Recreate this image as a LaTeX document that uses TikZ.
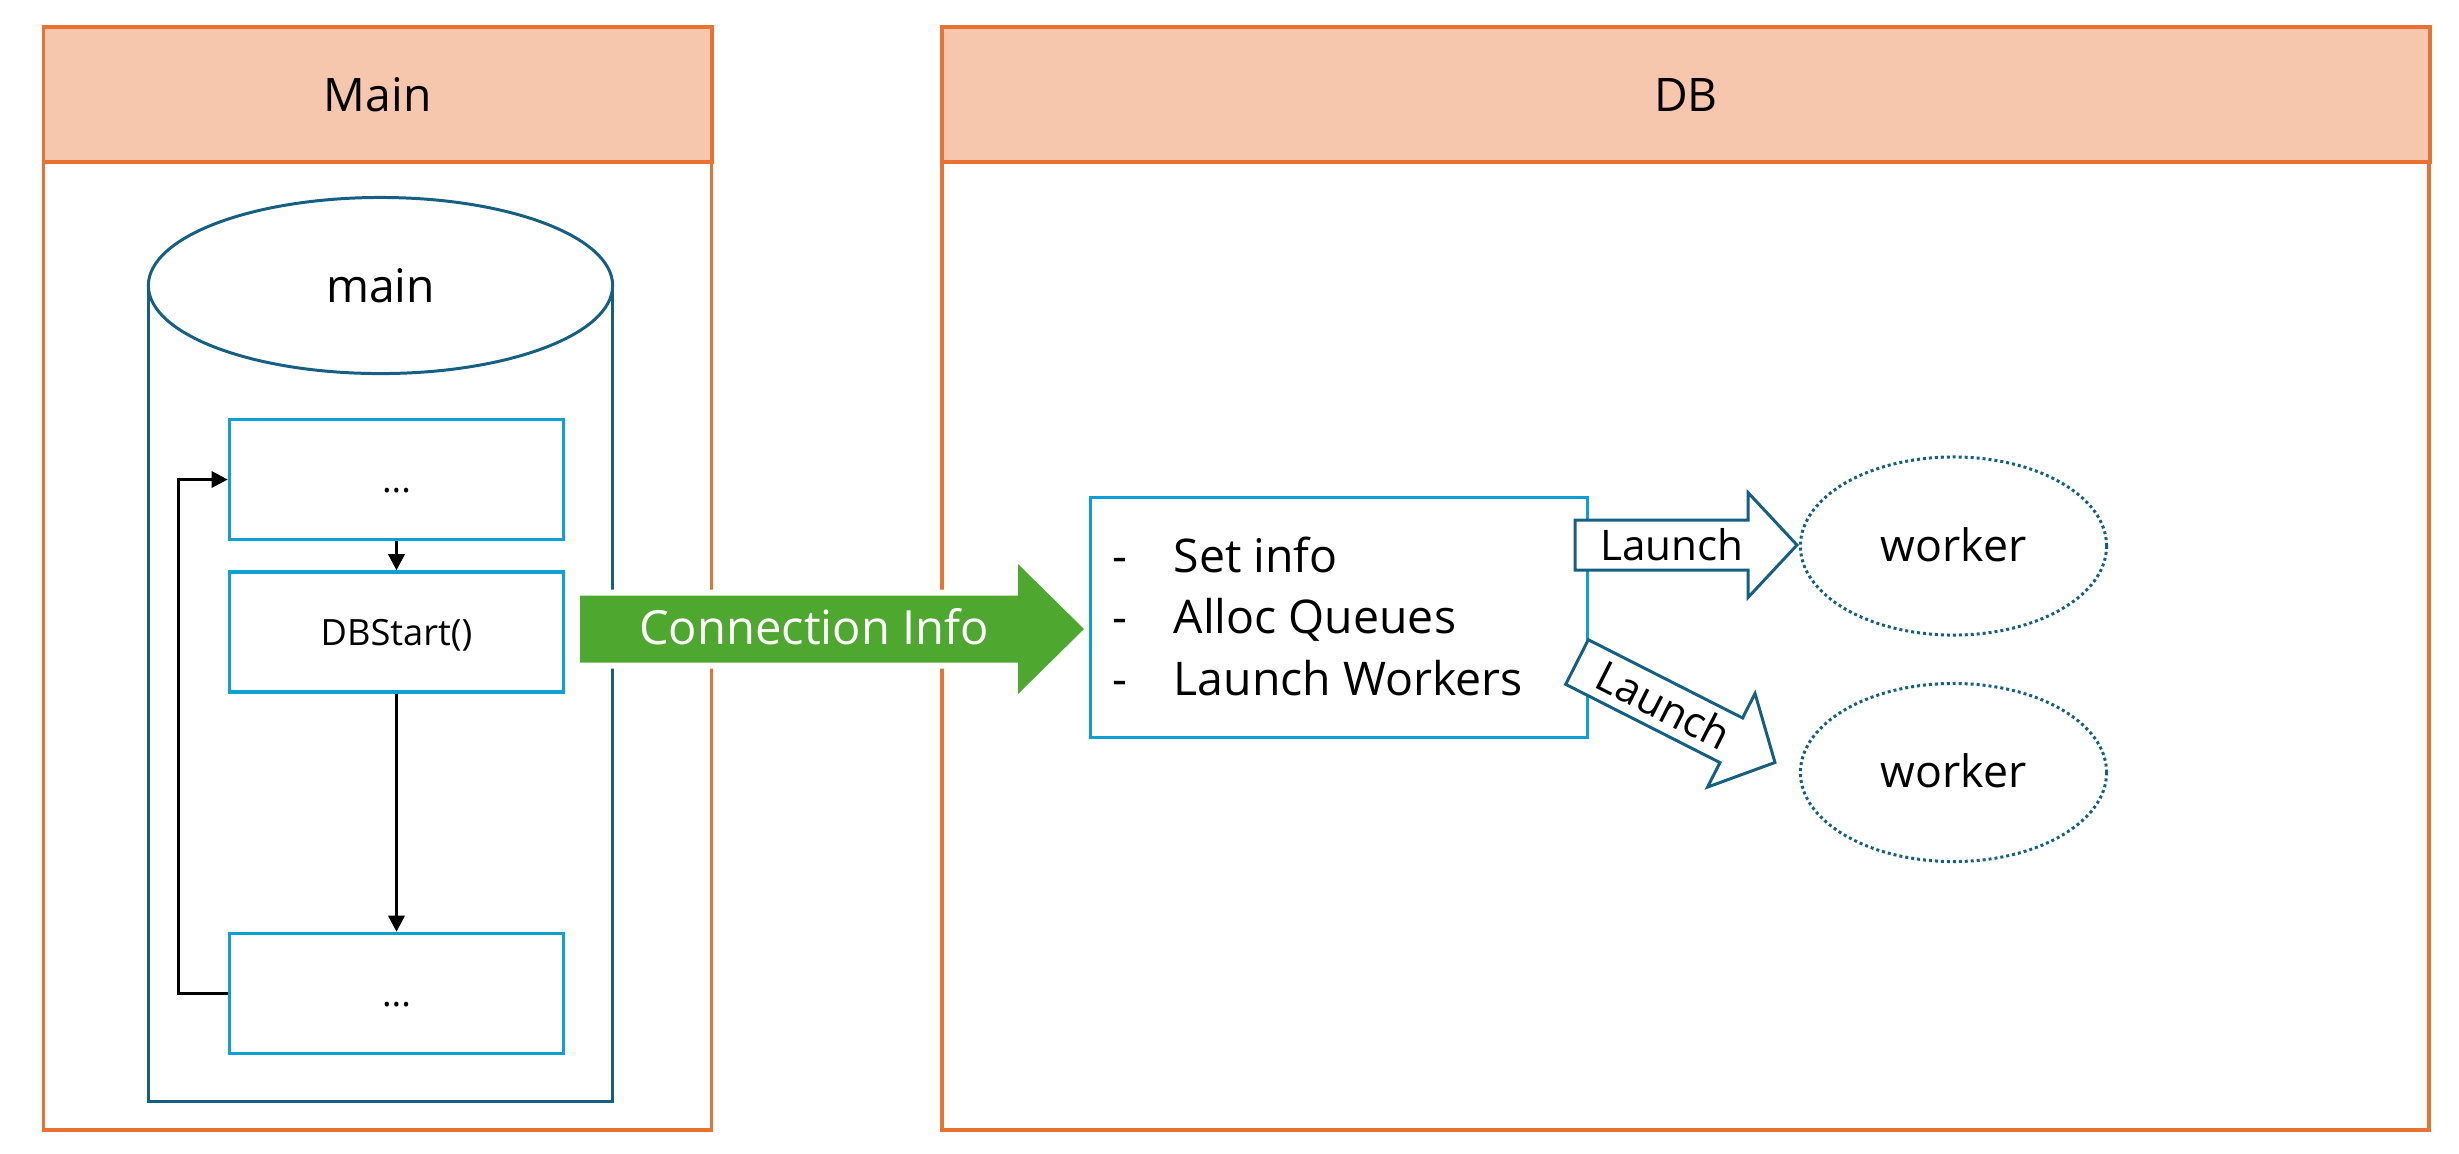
\documentclass[tikz,border=0pt]{standalone}
\usepackage{fontspec}
\setmainfont{Open Sans}
\usepackage{tikz}
\usetikzlibrary{arrows.meta,calc,shapes.geometric}

\definecolor{laneorange}{HTML}{E97132}
\definecolor{lanehead}{HTML}{F6C6AD}
\definecolor{darkblue}{HTML}{156082}
\definecolor{lightblue}{HTML}{0F9ED5}
\definecolor{flowgreen}{HTML}{4EA72E}

\begin{document}
\begin{tikzpicture}[x=0.01cm, y=-0.01cm, >={Triangle[length=4.6pt, width=4.6pt]},
  lane/.style={draw=laneorange, line width=0.95pt, outer sep=0pt},
  lanetitle/.style={lane, fill=lanehead, anchor=north west, minimum height=1.35cm,
    text height=0.4cm, text depth=0.07cm, font=\fontsize{13.15}{16}\selectfont},
  stepbox/.style={draw=lightblue, line width=0.95pt, minimum width=3.34cm, minimum height=1.2cm,
    text height=0.3cm, text depth=0.04cm, font=\fontsize{10.3}{12}\selectfont},
  flow/.style={->, line width=0.85pt},
  launch/.style={draw=darkblue, fill=white, line width=0.85pt},
  worker/.style={ellipse, draw=darkblue, line width=0.85pt, dash pattern=on 0.85pt off 0.85pt,
    minimum width=3.06cm, minimum height=1.78cm, text height=0.38cm, text depth=0.08cm,
    font=\fontsize{12.7}{15}\selectfont},
  infotext/.style={anchor=base west, inner sep=0pt, font=\fontsize{13.2}{16}\selectfont}]
  \useasboundingbox (0,0) rectangle (2459,1153);

  % swimlanes
  \node[lanetitle, minimum width=6.68cm] (mainhead) at (43.5,27) {Main};
  \draw[lane] (mainhead.south west) rectangle (711.5,1130);
  \node[lanetitle, minimum width=14.87cm] (dbhead) at (942,27) {DB};
  \draw[lane] (dbhead.south west) rectangle (2429,1130);

  % main cylinder
  \node[ellipse, draw=darkblue, line width=0.85pt, outer sep=0pt, minimum width=4.64cm,
    minimum height=1.76cm, text height=0.4cm, text depth=0.07cm,
    font=\fontsize{13.15}{16}\selectfont] (maincyl) at (380.5,285.5) {main};
  \draw[darkblue, line width=0.85pt] (maincyl.west) -- ++(0,815.5) -| (maincyl.east);

  % loop inside main
  \node[stepbox] (top) at (396.5,479.5) {...};
  \node[stepbox] (start) at (396.5,632) {DBStart()};
  \node[stepbox] (rest) at (396.5,993.5) {...};
  \draw[flow] (top) -- (start);
  \draw[flow] (start) -- (rest);
  \draw[flow] (rest.west) -- ++(-49,0) |- (top.west);

  % connection info
  \fill[flowgreen, preaction={draw=white, line width=3.4pt}]
    (580,595.5) -- (1018,595.5) -- (1018,564) -- (1084,629) -- (1018,694)
    -- (1018,662.5) -- (580,662.5) -- cycle;
  \node[white, anchor=base, inner sep=0pt, font=\fontsize{13.4}{16}\selectfont] (conn) at (814,644) {Connection Info};

  % db setup
  \node[draw=lightblue, line width=0.95pt, outer sep=0pt, minimum width=4.97cm,
    minimum height=2.4cm] (setup) at (1339,617.5) {};
  \node[infotext] (seta) at (1112,572) {\makebox[0.61cm][l]{-}Set info};
  \node[infotext] (setb) at (1112,633) {\makebox[0.61cm][l]{-}Alloc Queues};
  \node[infotext] (setc) at (1112,695) {\makebox[0.61cm][l]{-}Launch Workers};

  % launch arrows
  \begin{scope}[shift={(1575,545)}]
    \draw[launch] (0,-25) -- (173,-25) -- (173,-52.5) -- (222,0) -- (173,52.5) -- (173,25) -- (0,25) -- cycle;
    \node[anchor=base, inner sep=0pt, font=\fontsize{12}{14}\selectfont] (launcha) at (97,15) {Launch};
  \end{scope}
  \begin{scope}[shift={(1577,662)}, rotate=-26.9]
    \draw[launch] (0,-25) -- (173,-25) -- (173,-52.5) -- (222,0) -- (173,52.5) -- (173,25) -- (0,25) -- cycle;
    \node[anchor=base, inner sep=0pt, rotate=-26.9, font=\fontsize{12}{14}\selectfont] (launchb) at (97,15) {Launch};
  \end{scope}

  % workers
  \node[worker] (workera) at (1953.5,546) {worker};
  \node[worker] (workerb) at (1953.5,772.5) {worker};
\end{tikzpicture}
\end{document}
